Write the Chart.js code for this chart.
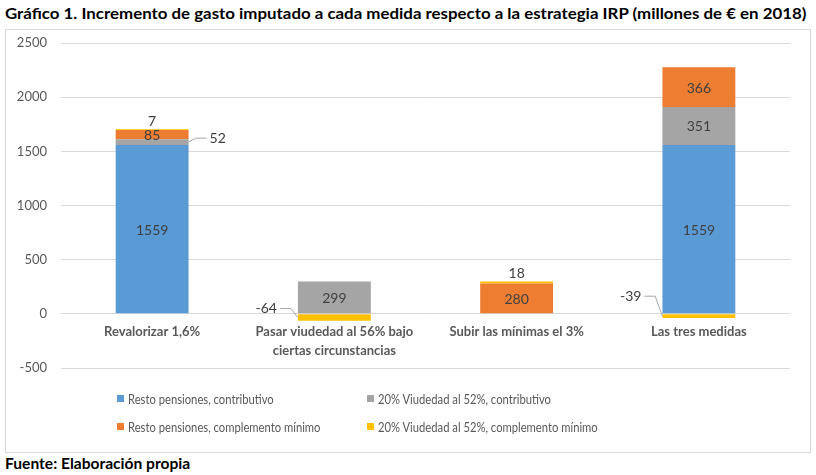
<!DOCTYPE html>
<html>
<head>
<meta charset="utf-8">
<script src="https://cdn.jsdelivr.net/npm/chart.js@4"></script>
<style>
  body { margin: 0; background: #fff; font-family: Lato, "Open Sans", sans-serif; }
  #titulo { position: absolute; left: 5px; top: 3px; font-weight: bold; font-size: 16px; color: #000; white-space: nowrap; transform-origin: left top; }
  #caja { position: absolute; left: 5px; top: 29px; width: 804px; height: 422px; border: 1px solid #d9d9d9; }
  #caja canvas { position: absolute; left: 0; top: 0; }
  .ley { position: absolute; font-size: 14px; color: #595959; white-space: nowrap; }
  .ley span { position: absolute; left: -11px; top: 5px; width: 7px; height: 7px; }
  .ley b { font-weight: normal; display: inline-block; transform-origin: left center; }
  #fuente { position: absolute; left: 5px; top: 454px; font-weight: bold; font-size: 15px; color: #000; transform-origin: left top; }
</style>
</head>
<body>
<div id="titulo">Gráfico 1. Incremento de gasto imputado a cada medida respecto a la estrategia IRP (millones de € en 2018)</div>
<div id="caja">
  <canvas id="grafico" width="804" height="422"></canvas>
  <div id="leyenda"></div>
</div>
<div id="fuente">Fuente: Elaboración propia</div>
<script>
// datos
const categorias = ['Revalorizar 1,6%', ['Pasar viudedad al 56% bajo', 'ciertas circunstancias'], 'Subir las mínimas el 3%', 'Las tres medidas'];
const restoContributivo = [1559, 0, 0, 1559];
const viudedadContributivo = [52, 299, 0, 351];
const restoMinimo = [85, 0, 280, 366];
const viudedadMinimo = [7, -64, 18, -39];
const series = ['Resto pensiones, contributivo', '20% Viudedad al 52%, contributivo', 'Resto pensiones, complemento mínimo', '20% Viudedad al 52%, complemento mínimo'];
const colores = ['#5B9BD5', '#A5A5A5', '#ED7D31', '#FFC000'];
const ejeMin = -500, ejeMax = 2500, paso = 500;

// ajustar titulo al ancho
const t = document.getElementById('titulo');
t.style.transform = 'scaleX(' + (801 / t.scrollWidth) + ')';
const f = document.getElementById('fuente');
f.style.transform = 'scaleX(' + (185 / f.scrollWidth) + ')';

// leyenda html
const ley = document.getElementById('leyenda');
let escala = 1;
series.forEach((s, i) => {
  const d = document.createElement('div');
  d.className = 'ley';
  d.style.left = (i % 2 === 0 ? 122 : 372) + 'px';
  d.style.top = (i < 2 ? 360 : 388) + 'px';
  d.innerHTML = '<span style="background:' + colores[i] + '"></span><b>' + s + '</b>';
  ley.appendChild(d);
  const b = d.querySelector('b');
  if (i === 0) escala = 146 / b.offsetWidth;
  b.style.transform = 'scaleX(' + escala + ')';
});

// posiciones de etiquetas con guia
const guias = {
  '1-0': { dx: 18, dy: -4 },
  '3-1': { dx: -18, dy: -9 },
  '3-3': { dx: -18, dy: -20 }
};

const etiquetas = {
  id: 'etiquetas',
  afterDatasetsDraw(chart) {
    const ctx = chart.ctx;
    const y = chart.scales.y;
    ctx.save();
    ctx.font = '14px Lato, sans-serif';
    ctx.fillStyle = '#404040';
    chart.data.datasets.forEach((ds, di) => {
      chart.getDatasetMeta(di).data.forEach((bar, i) => {
        const v = ds.data[i];
        if (!v) return;
        const top = Math.min(bar.y, bar.base), bot = Math.max(bar.y, bar.base);
        const h = bot - top, mid = (top + bot) / 2;
        const left = bar.x - bar.width / 2, right = bar.x + bar.width / 2;
        const masArriba = chart.data.datasets.slice(di + 1).some(d => d.data[i] > 0);
        ctx.textBaseline = 'middle';
        if (h >= 8) {
          ctx.textAlign = 'center';
          ctx.fillText(v, bar.x, mid + 1);
        } else if (v > 0 && !masArriba) {
          ctx.textAlign = 'center';
          ctx.fillText(v, bar.x, top - 8);
        } else {
          const g = guias[di + '-' + i] || { dx: v < 0 ? -18 : 18, dy: -8 };
          const x0 = v < 0 ? left : right;
          const y0 = mid;
          const x1 = x0 + g.dx * 0.4, y1 = y0 + g.dy;
          const x2 = x0 + g.dx;
          ctx.strokeStyle = '#a6a6a6';
          ctx.lineWidth = 1;
          ctx.beginPath();
          ctx.moveTo(x0, y0);
          ctx.lineTo(x1, y1);
          ctx.lineTo(x2, y1);
          ctx.stroke();
          ctx.textAlign = v < 0 ? 'right' : 'left';
          ctx.fillText(v, x2 + (v < 0 ? -3 : 3), y1);
        }
      });
    });
    // etiquetas de categoria junto al cero
    const y0 = y.getPixelForValue(0);
    ctx.font = 'bold 13px Lato, sans-serif';
    ctx.fillStyle = '#595959';
    ctx.textAlign = 'center';
    ctx.textBaseline = 'top';
    categorias.forEach((c, i) => {
      const x = chart.scales.x.getPixelForValue(i);
      const lineas = Array.isArray(c) ? c : [c];
      lineas.forEach((l, k) => ctx.fillText(l, x, y0 + 11 + k * 19));
    });
    ctx.restore();
  }
};

new Chart(document.getElementById('grafico'), {
  type: 'bar',
  data: {
    labels: categorias,
    datasets: series.map((s, i) => ({
      label: s,
      data: [restoContributivo, viudedadContributivo, restoMinimo, viudedadMinimo][i],
      backgroundColor: colores[i],
      borderWidth: 0,
      categoryPercentage: 0.4,
      barPercentage: 1
    }))
  },
  options: {
    responsive: false,
    animation: false,
    layout: { padding: { top: 13, right: 20, bottom: 76, left: 0 } },
    plugins: { legend: { display: false }, tooltip: { enabled: false } },
    scales: {
      x: {
        stacked: true,
        grid: { display: false },
        border: { display: false },
        ticks: { display: false }
      },
      y: {
        stacked: true,
        min: ejeMin,
        max: ejeMax,
        ticks: { stepSize: paso, color: '#595959', font: { family: 'Lato', size: 13 }, padding: 14, callback: v => String(v) },
        grid: { color: '#d9d9d9', drawTicks: false },
        border: { display: false },
        afterFit(s) { s.width = 55; s.paddingTop = 0; s.paddingBottom = 0; }
      }
    }
  },
  plugins: [etiquetas]
});
</script>
</body>
</html>
